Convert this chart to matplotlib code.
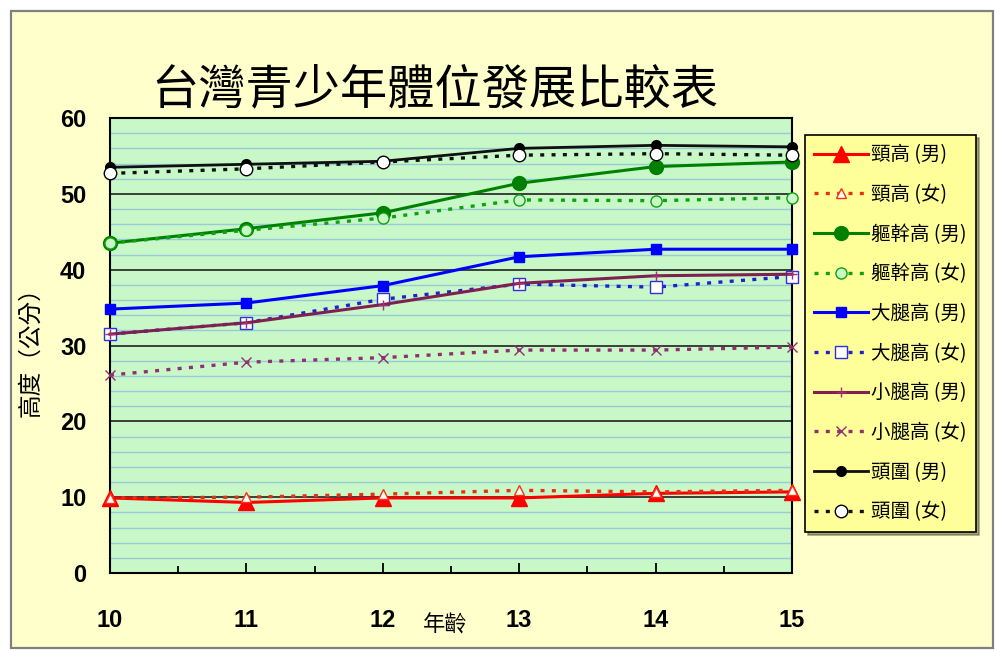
import matplotlib
matplotlib.use("Agg")
import matplotlib.pyplot as plt
from matplotlib.patches import Rectangle
from matplotlib.ticker import MultipleLocator

plt.rcParams['font.family'] = ['Noto Sans CJK TC', 'DejaVu Sans']

ages = [10, 11, 12, 13, 14, 15]

neck_m = [9.9, 9.3, 9.9, 9.9, 10.5, 10.7]
neck_f = [9.9, 10.0, 10.4, 10.9, 10.7, 10.9]
trunk_m = [43.5, 45.4, 47.5, 51.4, 53.6, 54.2]
trunk_f = [43.5, 45.2, 46.8, 49.2, 49.1, 49.5]
thigh_m = [34.8, 35.6, 37.9, 41.7, 42.7, 42.7]
thigh_f = [31.5, 33.0, 36.1, 38.1, 37.7, 39.1]
calf_m = [31.5, 33.0, 35.4, 38.2, 39.2, 39.4]
calf_f = [26.1, 27.8, 28.4, 29.4, 29.4, 29.8]
head_m = [53.5, 53.9, 54.3, 56.0, 56.4, 56.2]
head_f = [52.7, 53.3, 54.2, 55.1, 55.3, 55.1]

labels = ['頸高 (男)', '頸高 (女)', '軀幹高 (男)', '軀幹高 (女)', '大腿高 (男)',
          '大腿高 (女)', '小腿高 (男)', '小腿高 (女)', '頭圍 (男)', '頭圍 (女)']

title = '台灣青少年體位發展比較表'
y_label = '高度（公分）'
x_label = '年齡'

dot = (0, (1.2, 2.2))

fig = plt.figure(figsize=(9.96, 6.51), dpi=100, facecolor='white')
fig.patches.append(Rectangle((0.011, 0.005), 0.986, 0.978, transform=fig.transFigure,
                             facecolor='#FFFFCC', edgecolor='#808080', linewidth=1.6,
                             zorder=-10))

ax = fig.add_axes([0.1104, 0.1198, 0.6847, 0.6989])
ax.set_facecolor('#C8F8C8')

ax.set_xlim(10, 15)
ax.set_ylim(0, 60)

# gridlines: light every 2, dark every 10
for v in range(2, 60, 2):
    if v % 10:
        ax.axhline(v, color='#98CCD4', lw=1.0, zorder=0.5)
for v in range(10, 60, 10):
    ax.axhline(v, color='#202020', lw=1.2, zorder=0.6)

series = [
    (neck_m, dict(color='#FF0000', ls='-', lw=2.2, marker='^', ms=11, mfc='#FF0000', mec='#FF0000')),
    (neck_f, dict(color='#E83010', ls=dot, lw=2.4, marker='^', ms=7, mfc='white', mec='#FF3010')),
    (trunk_m, dict(color='#008000', ls='-', lw=2.2, marker='o', ms=10, mfc='#008000', mec='#008000')),
    (trunk_f, dict(color='#10A010', ls=dot, lw=2.4, marker='o', ms=8, mfc='#C8F8C8', mec='#10A010')),
    (thigh_m, dict(color='#0000FF', ls='-', lw=2.2, marker='s', ms=7, mfc='#0000FF', mec='#0000FF')),
    (thigh_f, dict(color='#2020D0', ls=dot, lw=2.4, marker='s', ms=9, mfc='white', mec='#3030E0')),
    (calf_m, dict(color='#802050', ls='-', lw=2.2, marker='+', ms=7, mec='#A03070')),
    (calf_f, dict(color='#903070', ls=dot, lw=2.4, marker='x', ms=7, mec='#903070')),
    (head_m, dict(color='#101010', ls='-', lw=2.0, marker='o', ms=7, mfc='black', mec='black')),
    (head_f, dict(color='#101010', ls=dot, lw=2.4, marker='o', ms=9, mfc='white', mec='black')),
]

handles = []
for vals, kw in series:
    h, = ax.plot(ages, vals, zorder=3, clip_on=False, **kw)
    handles.append(h)

for s in ax.spines.values():
    s.set_color('black')
    s.set_linewidth(1.5)

ax.xaxis.set_major_locator(MultipleLocator(1))
ax.xaxis.set_minor_locator(MultipleLocator(0.5))
ax.yaxis.set_major_locator(MultipleLocator(10))
ax.tick_params(axis='x', which='major', direction='in', length=7, width=1.3,
               pad=26, labelsize=17)
ax.tick_params(axis='x', which='minor', direction='in', length=5, width=1.3)
ax.tick_params(axis='y', which='major', length=0, pad=17, labelsize=17)
for t in ax.get_xticklabels() + ax.get_yticklabels():
    t.set_family(['Liberation Sans', 'DejaVu Sans'])
    t.set_fontweight('bold')

fig.text(0.437, 0.862, title, fontsize=34, ha='center', va='center')
fig.text(0.447, 0.040, x_label, fontsize=16, ha='center', va='center')
fig.text(0.031, 0.468, y_label, fontsize=17, ha='center', va='center', rotation=90)

leg = ax.legend(handles, labels, loc='upper left', bbox_to_anchor=(0.808, 0.793),
                bbox_transform=fig.transFigure, fontsize=14, frameon=True,
                facecolor='#FFFF99', edgecolor='black', framealpha=1, fancybox=False,
                shadow=True, handlelength=2.75, handletextpad=0.15, labelspacing=0.96,
                borderpad=0.5, borderaxespad=0)
leg.get_frame().set_linewidth(1.2)

fig.savefig('out.png', dpi=100, facecolor=fig.get_facecolor())
